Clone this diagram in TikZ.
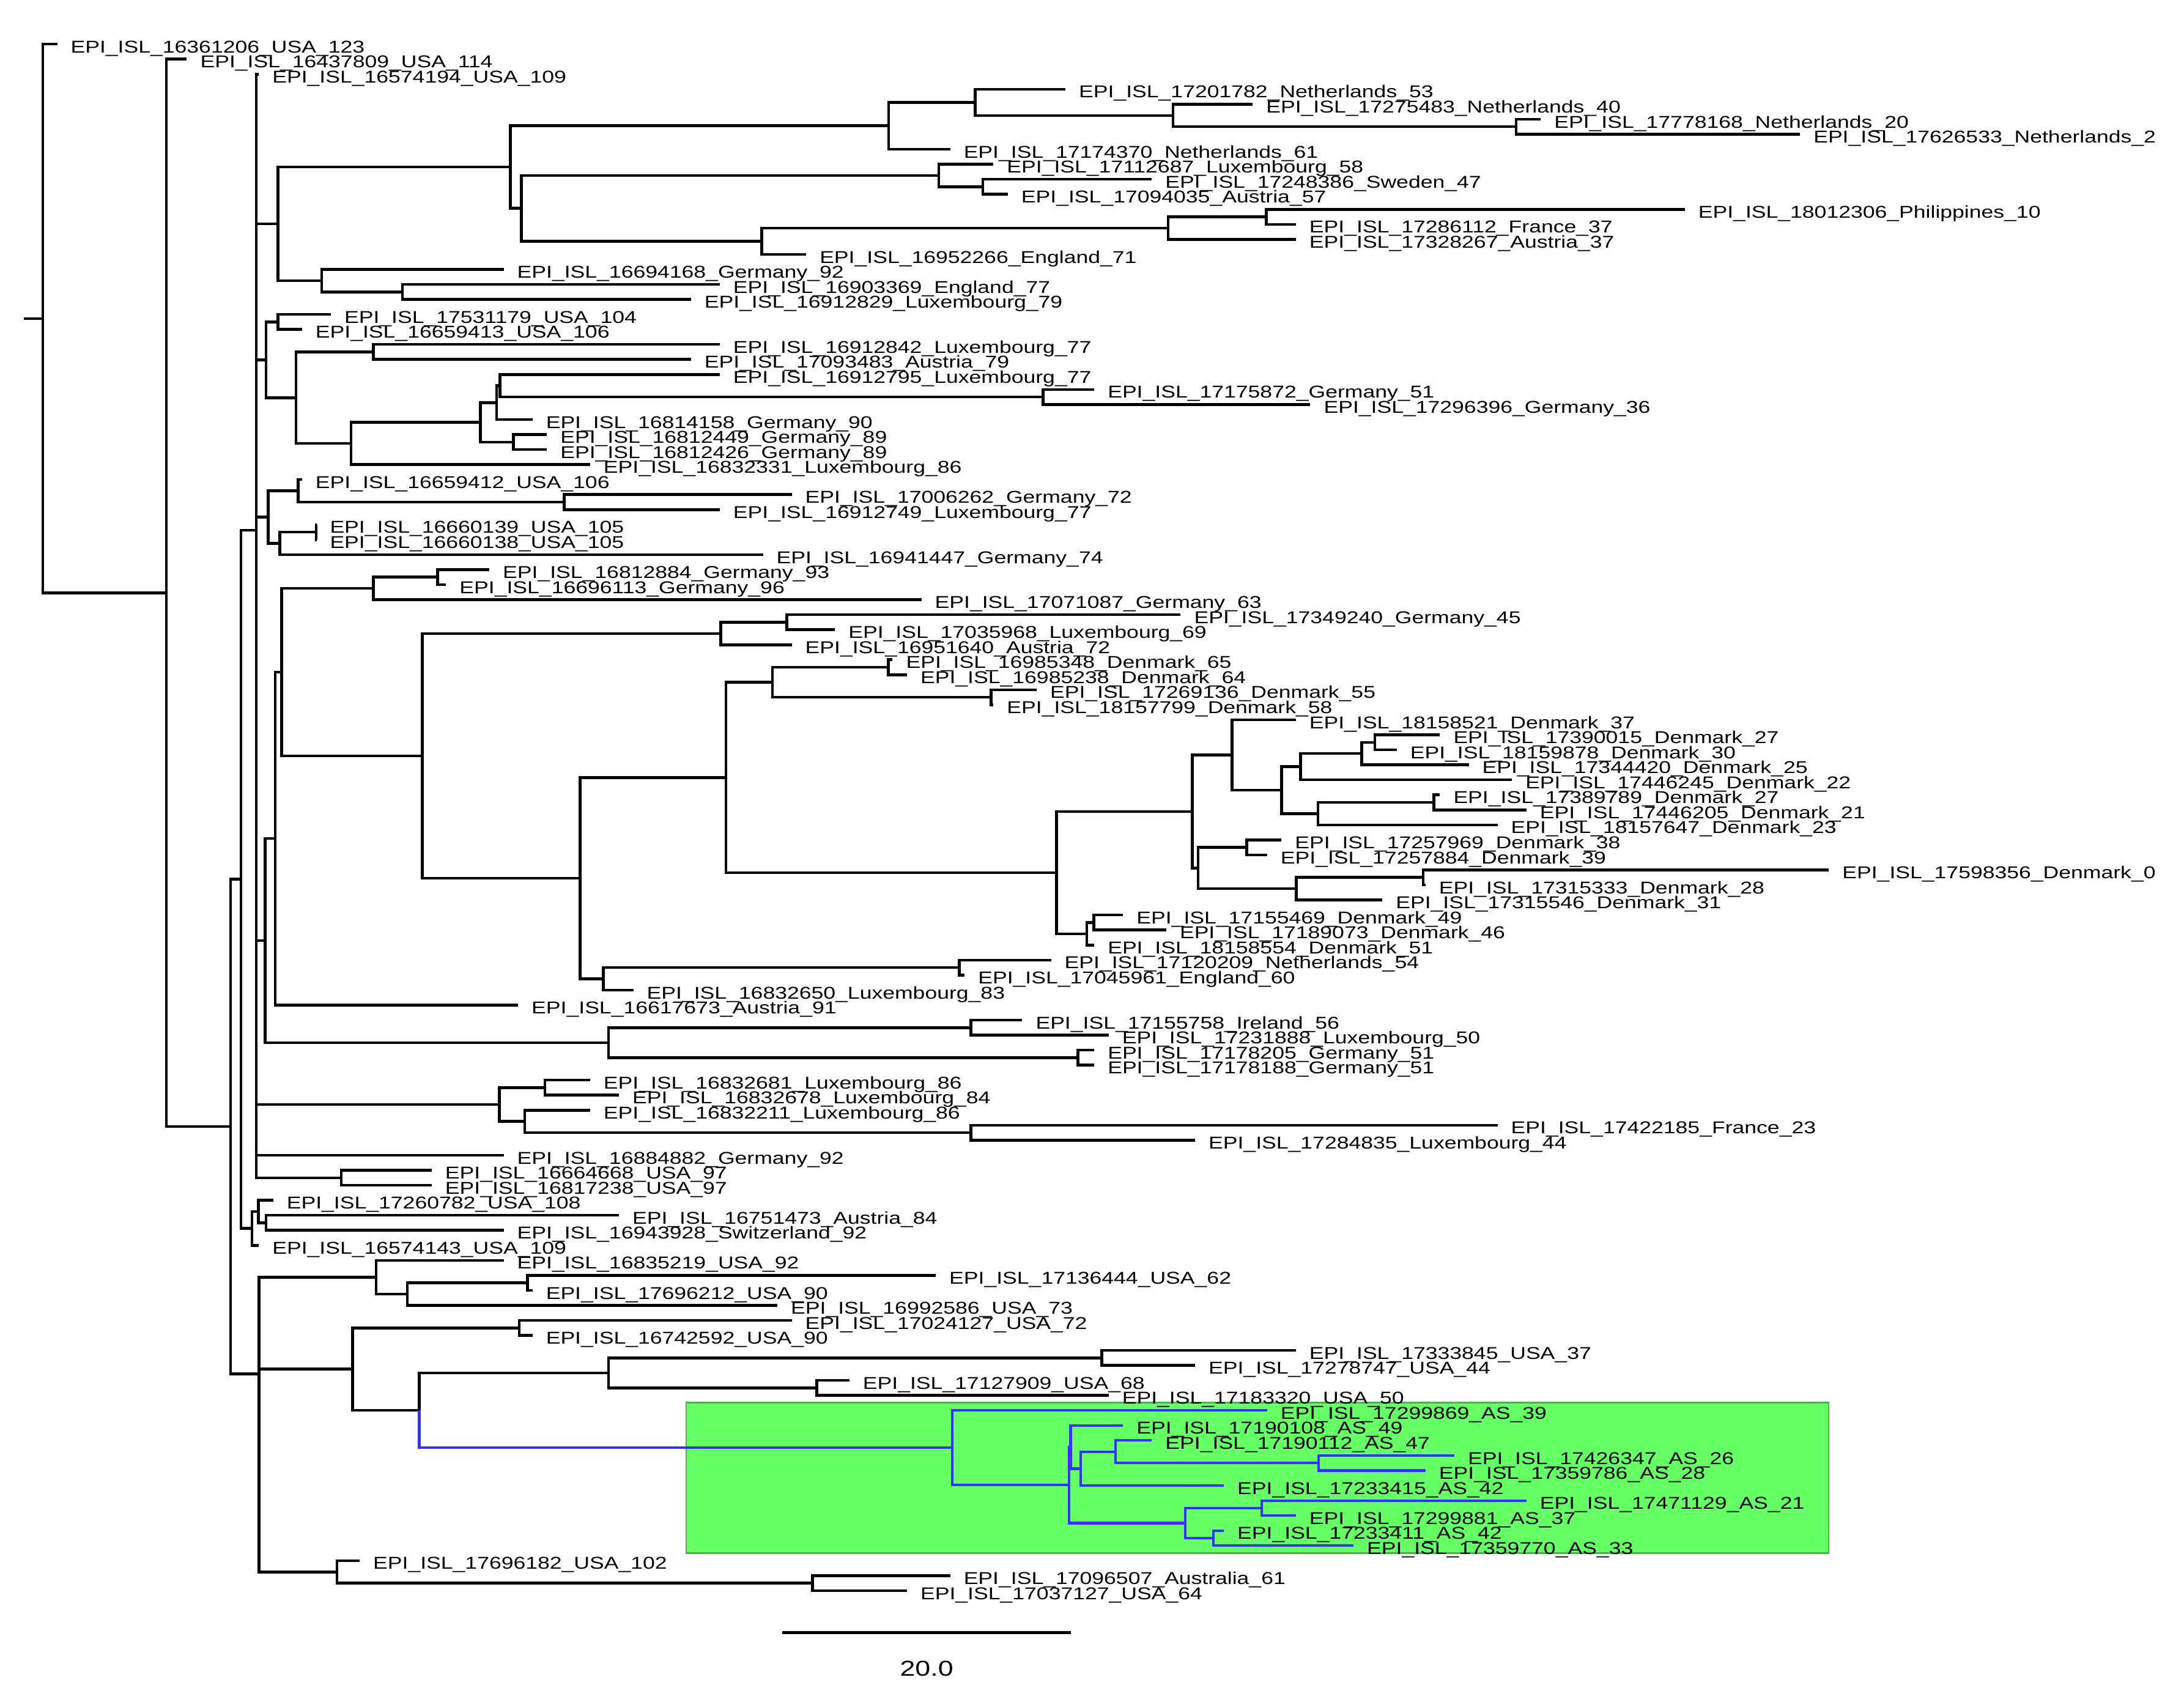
\documentclass[tikz,border=0pt]{standalone}
\usepackage{fontspec}
\usetikzlibrary{calc}
\newfontfamily\lblfont{Liberation Sans}[FakeStretch=1.27]
\definecolor{clblue}{RGB}{51,51,255}
\definecolor{boxfill}{RGB}{102,255,102}
\definecolor{boxline}{RGB}{76,176,76}
\tikzset{
  brl/.style={line width=2pt},
  brb/.style={line width=1.8pt, draw=clblue},
  lab/.style={anchor=base west, inner sep=0pt, xshift=9.5pt, yshift=-6.2pt, font=\lblfont\fontsize{12.3}{14}\selectfont},
}
\newcommand\mkleaf[4]{%
  \coordinate (l#1) at ({1313-10.341*#4},{31.7+(#1-1)*10.78});
  \node[lab] (t#1) at (l#1) {EPI\_ISL\_#2\_#3\_#4};}
\newcommand\mknode[4]{%
  \path let \p1=($(#3)!.5!(#4)$) in (#2pt,\y1) coordinate (#1);}
\newcommand\edg[2]{\foreach \kid in {#2} {\draw[brl] (#1) |- (\kid);}}
\newcommand\edgb[2]{\foreach \kid in {#2} {\draw[brb] (#1) |- (\kid);}}
\begin{document}
\begin{tikzpicture}[x=1pt,y=-1pt]
\fill[white] (0,0) rectangle (1568,1214);
\useasboundingbox (0,0) rectangle (1568,1214);
% highlighted clade
\draw[fill=boxfill, draw=boxline, line width=1pt] (492.8,1007.1) rectangle (1313,1115.1);
% leaves
\mkleaf{1}{16361206}{USA}{123}
\mkleaf{2}{16437809}{USA}{114}
\mkleaf{3}{16574194}{USA}{109}
\mkleaf{4}{17201782}{Netherlands}{53}
\mkleaf{5}{17275483}{Netherlands}{40}
\mkleaf{6}{17778168}{Netherlands}{20}
\mkleaf{7}{17626533}{Netherlands}{2}
\mkleaf{8}{17174370}{Netherlands}{61}
\mkleaf{9}{17112687}{Luxembourg}{58}
\mkleaf{10}{17248386}{Sweden}{47}
\mkleaf{11}{17094035}{Austria}{57}
\mkleaf{12}{18012306}{Philippines}{10}
\mkleaf{13}{17286112}{France}{37}
\mkleaf{14}{17328267}{Austria}{37}
\mkleaf{15}{16952266}{England}{71}
\mkleaf{16}{16694168}{Germany}{92}
\mkleaf{17}{16903369}{England}{77}
\mkleaf{18}{16912829}{Luxembourg}{79}
\mkleaf{19}{17531179}{USA}{104}
\mkleaf{20}{16659413}{USA}{106}
\mkleaf{21}{16912842}{Luxembourg}{77}
\mkleaf{22}{17093483}{Austria}{79}
\mkleaf{23}{16912795}{Luxembourg}{77}
\mkleaf{24}{17175872}{Germany}{51}
\mkleaf{25}{17296396}{Germany}{36}
\mkleaf{26}{16814158}{Germany}{90}
\mkleaf{27}{16812449}{Germany}{89}
\mkleaf{28}{16812426}{Germany}{89}
\mkleaf{29}{16832331}{Luxembourg}{86}
\mkleaf{30}{16659412}{USA}{106}
\mkleaf{31}{17006262}{Germany}{72}
\mkleaf{32}{16912749}{Luxembourg}{77}
\mkleaf{33}{16660139}{USA}{105}
\mkleaf{34}{16660138}{USA}{105}
\mkleaf{35}{16941447}{Germany}{74}
\mkleaf{36}{16812884}{Germany}{93}
\mkleaf{37}{16696113}{Germany}{96}
\mkleaf{38}{17071087}{Germany}{63}
\mkleaf{39}{17349240}{Germany}{45}
\mkleaf{40}{17035968}{Luxembourg}{69}
\mkleaf{41}{16951640}{Austria}{72}
\mkleaf{42}{16985348}{Denmark}{65}
\mkleaf{43}{16985238}{Denmark}{64}
\mkleaf{44}{17269136}{Denmark}{55}
\mkleaf{45}{18157799}{Denmark}{58}
\mkleaf{46}{18158521}{Denmark}{37}
\mkleaf{47}{17390015}{Denmark}{27}
\mkleaf{48}{18159878}{Denmark}{30}
\mkleaf{49}{17344420}{Denmark}{25}
\mkleaf{50}{17446245}{Denmark}{22}
\mkleaf{51}{17389789}{Denmark}{27}
\mkleaf{52}{17446205}{Denmark}{21}
\mkleaf{53}{18157647}{Denmark}{23}
\mkleaf{54}{17257969}{Denmark}{38}
\mkleaf{55}{17257884}{Denmark}{39}
\mkleaf{56}{17598356}{Denmark}{0}
\mkleaf{57}{17315333}{Denmark}{28}
\mkleaf{58}{17315546}{Denmark}{31}
\mkleaf{59}{17155469}{Denmark}{49}
\mkleaf{60}{17189073}{Denmark}{46}
\mkleaf{61}{18158554}{Denmark}{51}
\mkleaf{62}{17120209}{Netherlands}{54}
\mkleaf{63}{17045961}{England}{60}
\mkleaf{64}{16832650}{Luxembourg}{83}
\mkleaf{65}{16617673}{Austria}{91}
\mkleaf{66}{17155758}{Ireland}{56}
\mkleaf{67}{17231888}{Luxembourg}{50}
\mkleaf{68}{17178205}{Germany}{51}
\mkleaf{69}{17178188}{Germany}{51}
\mkleaf{70}{16832681}{Luxembourg}{86}
\mkleaf{71}{16832678}{Luxembourg}{84}
\mkleaf{72}{16832211}{Luxembourg}{86}
\mkleaf{73}{17422185}{France}{23}
\mkleaf{74}{17284835}{Luxembourg}{44}
\mkleaf{75}{16884882}{Germany}{92}
\mkleaf{76}{16664668}{USA}{97}
\mkleaf{77}{16817238}{USA}{97}
\mkleaf{78}{17260782}{USA}{108}
\mkleaf{79}{16751473}{Austria}{84}
\mkleaf{80}{16943928}{Switzerland}{92}
\mkleaf{81}{16574143}{USA}{109}
\mkleaf{82}{16835219}{USA}{92}
\mkleaf{83}{17136444}{USA}{62}
\mkleaf{84}{17696212}{USA}{90}
\mkleaf{85}{16992586}{USA}{73}
\mkleaf{86}{17024127}{USA}{72}
\mkleaf{87}{16742592}{USA}{90}
\mkleaf{88}{17333845}{USA}{37}
\mkleaf{89}{17278747}{USA}{44}
\mkleaf{90}{17127909}{USA}{68}
\mkleaf{91}{17183320}{USA}{50}
\mkleaf{92}{17299869}{AS}{39}
\mkleaf{93}{17190108}{AS}{49}
\mkleaf{94}{17190112}{AS}{47}
\mkleaf{95}{17426347}{AS}{26}
\mkleaf{96}{17359786}{AS}{28}
\mkleaf{97}{17233415}{AS}{42}
\mkleaf{98}{17471129}{AS}{21}
\mkleaf{99}{17299881}{AS}{37}
\mkleaf{100}{17233411}{AS}{42}
\mkleaf{101}{17359770}{AS}{33}
\mkleaf{102}{17696182}{USA}{102}
\mkleaf{103}{17096507}{Australia}{61}
\mkleaf{104}{17037127}{USA}{64}
% internal nodes: top clade
\mknode{Nn3}{1088.4}{l6}{l7}
\mknode{Nn2}{842.1}{l5}{Nn3}
\mknode{Nn1}{700.1}{l4}{Nn2}
\mknode{Nn4}{638}{Nn1}{l8}
\mknode{Nn9}{705.6}{l10}{l11}
\mknode{Nn7}{674}{l9}{Nn9}
\mknode{Nn11}{909.2}{l12}{l13}
\mknode{Nn10}{838.7}{Nn11}{l14}
\mknode{Nn8}{546.8}{Nn10}{l15}
\mknode{Nn6}{374.2}{Nn7}{Nn8}
\mknode{Nn5}{366.5}{Nn4}{Nn6}
\mknode{Ng2}{289}{l17}{l18}
\mknode{Ng1}{231}{l16}{Ng2}
\mknode{Ntop}{199.6}{Nn5}{Ng1}
% P2 group
\mknode{Pa}{199.6}{l19}{l20}
\mknode{Pc}{268}{l21}{l22}
\mknode{Pi}{748.8}{l24}{l25}
\mknode{Ph}{359}{l23}{Pi}
\mknode{Pf}{356.5}{Ph}{l26}
\mknode{Pg}{368.7}{l27}{l28}
\mknode{Pe}{345}{Pf}{Pg}
\mknode{Pd}{252}{Pe}{l29}
\mknode{Pb}{212.5}{Pc}{Pd}
\mknode{P2}{191}{Pa}{Pb}
% P3 group
\mknode{Qc}{405}{l31}{l32}
\mknode{Qa}{214}{l30}{Qc}
\mknode{Qd}{227}{l33}{l34}
\mknode{Qb}{200.8}{Qd}{l35}
\mknode{P3}{192.5}{Qa}{Qb}
% T group
\mknode{Rc}{314.2}{l36}{l37}
\mknode{Ra}{268}{Rc}{l38}
\mknode{Rf}{565}{l39}{l40}
\mknode{Rd}{517.4}{Rf}{l41}
\mknode{Rj}{637.8}{l42}{l43}
\mknode{Rk}{711.6}{l44}{l45}
\mknode{Ri}{554.5}{Rj}{Rk}
\mknode{E7}{987}{l47}{l48}
\mknode{E6}{977.7}{E7}{l49}
\mknode{E4}{933.6}{E6}{l50}
\mknode{E8}{1029.4}{l51}{l52}
\mknode{E5}{946.2}{E8}{l53}
\mknode{E3}{920.2}{E4}{E5}
\mknode{E1}{884.5}{l46}{E3}
\mknode{E9}{895}{l54}{l55}
\mknode{E11}{1021.8}{l56}{l57}
\mknode{E10}{930.7}{E11}{l58}
\mknode{E2}{860.1}{E9}{E10}
\mknode{Eb}{855.9}{E1}{E2}
\mknode{F1}{785.3}{l59}{l60}
\mknode{Fb}{780.3}{F1}{l61}
\mknode{Dn}{758.5}{Eb}{Fb}
\mknode{Rg}{521.2}{Ri}{Dn}
\mknode{Rm}{688.8}{l62}{l63}
\mknode{Rh}{433.2}{Rm}{l64}
\mknode{Re}{416.5}{Rg}{Rh}
\mknode{Rb}{303.2}{Rd}{Re}
\mknode{Rn}{202.3}{Ra}{Rb}
\mknode{Sn}{197.5}{Rn}{l65}
\mknode{Ua}{697}{l66}{l67}
\mknode{Ub}{773.9}{l68}{l69}
\mknode{Un}{436.8}{Ua}{Ub}
\mknode{Tn}{190.4}{Sn}{Un}
% Luxembourg group
\mknode{Lx1}{391.3}{l70}{l71}
\mknode{Lx3}{697}{l73}{l74}
\mknode{Lx2}{376.7}{l72}{Lx3}
\mknode{Lux}{358.5}{Lx1}{Lx2}
\mknode{Us97}{245}{l76}{l77}
\coordinate (P1) at (184,380.6);
% X group
\mknode{Zn}{191}{l79}{l80}
\mknode{Yn}{185.6}{l78}{Zn}
\mknode{Xn}{181}{Yn}{l81}
\mknode{Qn}{173}{P1}{Xn}
% lower group
\mknode{A3}{378.6}{l83}{l84}
\mknode{A2}{292.5}{A3}{l85}
\mknode{A1}{270}{l82}{A2}
\mknode{B2}{372.7}{l86}{l87}
\mknode{B5}{791}{l88}{l89}
\mknode{B6}{586.5}{l90}{l91}
\mknode{B4}{436.8}{B5}{B6}
\mknode{AS9}{946.7}{l95}{l96}
\mknode{AS8}{801}{l94}{AS9}
\mknode{AS4}{775.9}{AS8}{l97}
\mknode{AS3}{768.6}{l93}{AS4}
\mknode{AS6}{906}{l98}{l99}
\mknode{AS7}{871.1}{l100}{l101}
\mknode{AS5}{851}{AS6}{AS7}
\mknode{AS2}{767.5}{AS3}{AS5}
\mknode{AS1}{683.5}{l92}{AS2}
\mknode{B3}{301}{B4}{AS1}
\mknode{B1}{253.1}{B2}{B3}
\mknode{C2}{583.4}{l103}{l104}
\mknode{C1}{242}{l102}{C2}
\mknode{Nd2}{186}{B1}{C1}
\mknode{Nd1}{186}{A1}{Nd2}
\mknode{Nb}{165.6}{Qn}{Nd1}
\mknode{Na}{119.5}{l2}{Nb}
\mknode{Root}{30.8}{l1}{Na}
\path let \p1=(Root) in (17pt,\y1) coordinate (rs);
% edges
\draw[brl] (rs) -- (Root);
\edg{Root}{l1,Na}
\edg{Na}{l2,Nb}
\edg{Nb}{Qn,Nd1}
\edg{Qn}{P1,Xn}
\edg{P1}{l3,Ntop,P2,P3,Tn,Lux,l75,Us97}
\edg{Ntop}{Nn5,Ng1}
\edg{Nn5}{Nn4,Nn6}
\edg{Nn4}{Nn1,l8}
\edg{Nn1}{l4,Nn2}
\edg{Nn2}{l5,Nn3}
\edg{Nn3}{l6,l7}
\edg{Nn6}{Nn7,Nn8}
\edg{Nn7}{l9,Nn9}
\edg{Nn9}{l10,l11}
\edg{Nn8}{Nn10,l15}
\edg{Nn10}{Nn11,l14}
\edg{Nn11}{l12,l13}
\edg{Ng1}{l16,Ng2}
\edg{Ng2}{l17,l18}
\edg{P2}{Pa,Pb}
\edg{Pa}{l19,l20}
\edg{Pb}{Pc,Pd}
\edg{Pc}{l21,l22}
\edg{Pd}{Pe,l29}
\edg{Pe}{Pf,Pg}
\edg{Pf}{Ph,l26}
\edg{Ph}{l23,Pi}
\edg{Pi}{l24,l25}
\edg{Pg}{l27,l28}
\edg{P3}{Qa,Qb}
\edg{Qa}{l30,Qc}
\edg{Qc}{l31,l32}
\edg{Qb}{Qd,l35}
\edg{Qd}{l33,l34}
\edg{Tn}{Sn,Un}
\edg{Sn}{Rn,l65}
\edg{Rn}{Ra,Rb}
\edg{Ra}{Rc,l38}
\edg{Rc}{l36,l37}
\edg{Rb}{Rd,Re}
\edg{Rd}{Rf,l41}
\edg{Rf}{l39,l40}
\edg{Re}{Rg,Rh}
\edg{Rg}{Ri,Dn}
\edg{Ri}{Rj,Rk}
\edg{Rj}{l42,l43}
\edg{Rk}{l44,l45}
\edg{Dn}{Eb,Fb}
\edg{Eb}{E1,E2}
\edg{E1}{l46,E3}
\edg{E3}{E4,E5}
\edg{E4}{E6,l50}
\edg{E6}{E7,l49}
\edg{E7}{l47,l48}
\edg{E5}{E8,l53}
\edg{E8}{l51,l52}
\edg{E2}{E9,E10}
\edg{E9}{l54,l55}
\edg{E10}{E11,l58}
\edg{E11}{l56,l57}
\edg{Fb}{F1,l61}
\edg{F1}{l59,l60}
\edg{Rh}{Rm,l64}
\edg{Rm}{l62,l63}
\edg{Un}{Ua,Ub}
\edg{Ua}{l66,l67}
\edg{Ub}{l68,l69}
\edg{Lux}{Lx1,Lx2}
\edg{Lx1}{l70,l71}
\edg{Lx2}{l72,Lx3}
\edg{Lx3}{l73,l74}
\edg{Us97}{l76,l77}
\edg{Xn}{Yn,l81}
\edg{Yn}{l78,Zn}
\edg{Zn}{l79,l80}
\edg{Nd1}{A1,Nd2}
\edg{Nd2}{B1,C1}
\edg{A1}{l82,A2}
\edg{A2}{A3,l85}
\edg{A3}{l83,l84}
\edg{B1}{B2,B3}
\edg{B2}{l86,l87}
\edg{B3}{B4}
\edg{B4}{B5,B6}
\edg{B5}{l88,l89}
\edg{B6}{l90,l91}
\edg{C1}{l102,C2}
\edg{C2}{l103,l104}
% highlighted (blue) branches
\edgb{B3}{AS1}
\edgb{AS1}{l92,AS2}
\edgb{AS2}{AS3,AS5}
\edgb{AS3}{l93,AS4}
\edgb{AS4}{AS8,l97}
\edgb{AS8}{l94,AS9}
\edgb{AS9}{l95,l96}
\edgb{AS5}{AS6,AS7}
\edgb{AS6}{l98,l99}
\edgb{AS7}{l100,l101}
% scale bar
\coordinate (sbA) at (561.8,1172.2);
\coordinate (sbB) at (768.8,1172.2);
\draw[brl] (sbA) -- (sbB);
\node[font=\lblfont\fontsize{15.5}{17}\selectfont, inner sep=0pt] (sbl) at (665.3,1198) {20.0};
\end{tikzpicture}
\end{document}
